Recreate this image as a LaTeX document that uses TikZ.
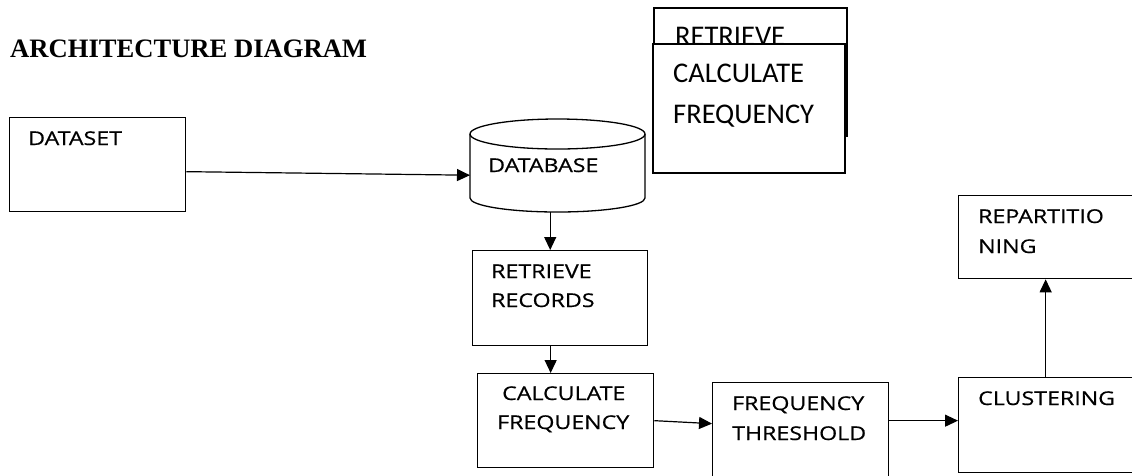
\documentclass[tikz,border=0pt]{standalone}
\usepackage{fontspec}
\setmainfont{Liberation Serif}
\newfontfamily\labfont[FakeStretch=1.22, FakeBold=0.6]{Open Sans}
\newfontfamily\bigfont{Carlito}
\usetikzlibrary{arrows.meta}
\begin{document}
\begin{tikzpicture}[x=1pt,y=-1pt,
  box/.style={draw, line width=1.3pt, anchor=north west, inner sep=0pt},
  lab/.style={font=\labfont\fontsize{19}{19}\selectfont, anchor=base west, inner sep=0pt},
  big/.style={font=\bigfont\fontsize{28.5}{28.5}\selectfont, anchor=base west, inner sep=0pt},
  arr/.style={-{Triangle[length=13pt,width=12pt]}, line width=1.2pt}]
\useasboundingbox (0,0) rectangle (1132,475);
% title
\node[anchor=base west, inner sep=0pt, font=\bfseries\fontsize{26.6}{26.6}\selectfont] (title) at (10,57) {ARCHITECTURE DIAGRAM};
% dataset
\node[box, minimum width=176pt, minimum height=94pt] (ds) at (9,117) {};
\node[lab] (dst) at (28,145) {DATASET};
% database cylinder
\node[anchor=north west, inner sep=0pt, minimum width=175pt, minimum height=93pt] (db) at (470,119) {};
\draw[line width=1.3pt] (470,134) -- (470,198) arc[start angle=180, end angle=0, x radius=87.5, y radius=14] -- (645,134);
\draw[line width=1.3pt] (557.5,134) ellipse [x radius=87.5, y radius=15];
\node[lab] (dbt) at (488,172) {DATABASE};
% retrieve records
\node[box, minimum width=175pt, minimum height=95pt] (rr) at (472,250) {};
\node[lab] (rrt1) at (491,278) {RETRIEVE};
\node[lab] (rrt2) at (491,307) {RECORDS};
% calculate frequency
\node[box, minimum width=176pt, minimum height=94pt] (cf) at (477,373) {};
\node[lab] (cft1) at (502,400) {CALCULATE};
\node[lab] (cft2) at (497,429) {FREQUENCY};
% frequency threshold
\node[box, minimum width=176pt, minimum height=100pt] (ft) at (712,382) {};
\node[lab] (ftt1) at (732,410) {FREQUENCY};
\node[lab] (ftt2) at (732,440) {THRESHOLD};
% clustering
\node[box, minimum width=190pt, minimum height=95pt] (cl) at (958,377) {};
\node[lab] (clt) at (978,405) {CLUSTERING};
% repartitioning
\node[box, minimum width=190pt, minimum height=83pt] (rp) at (958,195) {};
\node[lab] (rpt1) at (978,223) {REPARTITIO};
\node[lab] (rpt2) at (978,253) {NING};
% top right overlapping boxes
\node[box, line width=1.8pt, minimum width=193pt, minimum height=128pt] (r2) at (653,7) {};
\node[big] (r2t) at (675,45.5) {RETRIEVE};
\node[box, fill=white, line width=1.6pt, minimum width=192pt, minimum height=129pt] (c2) at (652,43) {};
\node[big] (c2t1) at (673,82) {CALCULATE};
\node[big] (c2t2) at (673,123) {FREQUENCY};
% connectors
\draw[arr] ([yshift=-7pt]ds.east) -- ([yshift=-9.5pt]db.west);
\draw[arr] ([xshift=-7.5pt]db.south) -- ([xshift=-7.5pt]db.south |- rr.north);
\draw[arr] ([xshift=-9.5pt]rr.south) -- ([xshift=-9.5pt]rr.south |- cf.north);
\draw[arr] (cf.east) -- ([yshift=9pt]ft.west);
\draw[arr] ([yshift=12pt]ft.east) -- ([yshift=4.5pt]cl.west);
\draw[arr] ([xshift=-8pt]cl.north) -- ([xshift=-8pt]cl.north |- rp.south);
\end{tikzpicture}
\end{document}
